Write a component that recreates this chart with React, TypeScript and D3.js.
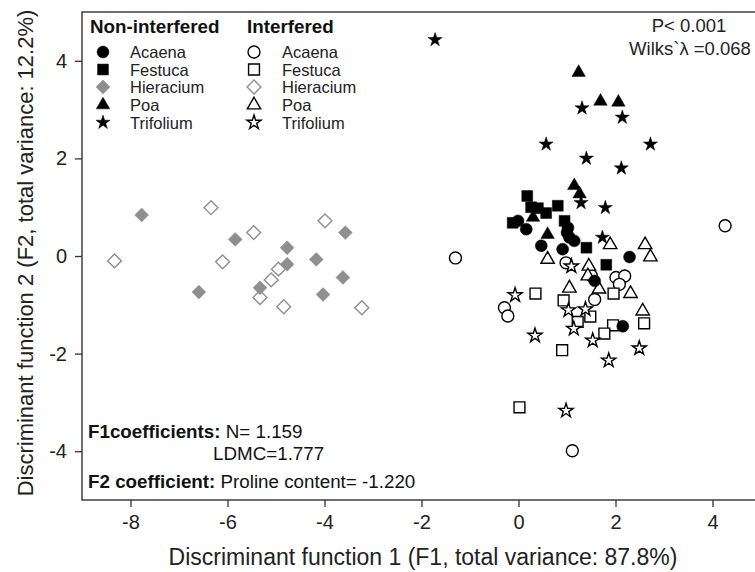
import { useEffect, useRef } from "react";
import * as d3 from "d3";

const WIDTH = 755;
const HEIGHT = 572;
const FRAME = { left: 82, top: 12, bottom: 500, right: 790 };
const FONT = "'Liberation Sans', Arial, sans-serif";

const xTicks = [-8, -6, -4, -2, 0, 2, 4];
const yTicks = [-4, -2, 0, 2, 4];

// Non-interfered
const acaenaNI = [[-0.01, 0.72], [0.16, 0.55], [0.47, 0.21], [0.91, 0.14], [1.05, 0.38], [1.15, 0.31], [1.02, 0.58], [1.0, 0.48], [2.29, -0.02], [1.57, -0.51], [2.15, -1.44]];
const festucaNI = [[0.18, 1.23], [0.4, 0.98], [0.57, 0.88], [0.81, 1.03], [-0.12, 0.68], [0.95, 0.72], [1.4, 0.17], [1.81, -0.18], [0.26, 1.0]];
const hieraciumNI = [[-7.77, 0.84], [-5.84, 0.34], [-4.77, 0.17], [-4.77, -0.17], [-4.17, -0.07], [-3.57, 0.48], [-3.62, -0.44], [-4.03, -0.79], [-5.33, -0.65], [-6.59, -0.74]];
const poaNI = [[1.24, 3.76], [1.69, 3.17], [2.06, 3.15], [1.15, 1.44], [1.26, 1.27], [0.3, 0.79], [0.6, 0.44]];
const trifoliumNI = [[-1.72, 4.43], [1.31, 3.03], [2.14, 2.84], [0.57, 2.29], [2.72, 2.29], [1.4, 2.0], [2.12, 1.8], [1.79, 0.99], [1.73, 0.38], [1.29, 1.09]];

// Interfered
const acaenaI = [[4.26, 0.62], [-1.3, -0.04], [0.98, -0.14], [2.01, -0.44], [2.19, -0.41], [2.08, -0.58], [1.57, -0.89], [-0.29, -1.06], [-0.22, -1.23], [1.11, -3.99], [1.5, -0.4]];
const festucaI = [[0.35, -0.77], [0.93, -0.91], [1.96, -0.77], [1.48, -1.24], [1.22, -1.35], [1.95, -1.42], [1.77, -1.59], [2.59, -1.38], [0.9, -1.93], [0.02, -3.1]];
const hieraciumI = [[-6.34, 0.99], [-8.33, -0.1], [-5.46, 0.48], [-6.1, -0.12], [-3.99, 0.72], [-4.95, -0.27], [-5.1, -0.49], [-5.33, -0.85], [-4.84, -1.04], [-3.23, -1.06]];
const poaI = [[0.6, -0.07], [1.89, 0.23], [2.61, 0.23], [2.72, -0.02], [1.45, -0.21], [1.43, -0.41], [1.05, -0.66], [1.66, -0.68], [2.31, -0.77], [2.56, -1.13]];
const trifoliumI = [[-0.07, -0.8], [1.03, -1.11], [1.38, -1.09], [1.14, -1.49], [0.34, -1.63], [1.53, -1.73], [2.49, -1.89], [1.86, -2.14], [0.98, -3.17], [1.09, -0.21]];

const species = ["Acaena", "Festuca", "Hieracium", "Poa", "Trifolium"];

const GRAY = "#8f8f8f";

// symbol shape per species
const shapeOf: Record<string, { type: d3.SymbolType; size: number; rotate: number }> = {
    Acaena: { type: d3.symbolCircle, size: 112, rotate: 0 },
    Festuca: { type: d3.symbolSquare, size: 118, rotate: 0 },
    Hieracium: { type: d3.symbolSquare, size: 96, rotate: 45 },
    Poa: { type: d3.symbolTriangle, size: 78, rotate: 0 },
    Trifolium: { type: d3.symbolStar, size: 62, rotate: 0 },
};

const groups = [
    { name: "Acaena", filled: false, data: acaenaI },
    { name: "Festuca", filled: false, data: festucaI },
    { name: "Hieracium", filled: false, data: hieraciumI },
    { name: "Poa", filled: false, data: poaI },
    { name: "Trifolium", filled: false, data: trifoliumI },
    { name: "Hieracium", filled: true, data: hieraciumNI },
    { name: "Festuca", filled: true, data: festucaNI },
    { name: "Acaena", filled: true, data: acaenaNI },
    { name: "Poa", filled: true, data: poaNI },
    { name: "Trifolium", filled: true, data: trifoliumNI },
];

const Marker = ({ name, filled, x, y }: { name: string; filled: boolean; x: number; y: number }) => {
    const s = shapeOf[name];
    const d = d3.symbol().type(s.type).size(s.size)() as string;
    const isHier = name === "Hieracium";
    const color = isHier ? GRAY : "#000";
    return (
        <path
            d={d}
            transform={`translate(${x},${y}) rotate(${s.rotate})`}
            fill={filled ? color : "#fff"}
            stroke={color}
            strokeWidth={filled ? 0.5 : 1.4}
        />
    );
};

const App = () => {
    const xAxisRef = useRef(null);
    const yAxisRef = useRef(null);

    const xScale = d3.scaleLinear().domain([-9, 5]).range([FRAME.left, FRAME.left + 14 * 48.5]);
    const yScale = d3.scaleLinear().domain([-5, 5]).range([FRAME.bottom, FRAME.top]);

    useEffect(() => {
        const gx = d3.select(xAxisRef.current);
        gx.selectAll("*").remove();
        gx.call(
            d3.axisBottom(xScale).tickValues(xTicks).tickSize(7).tickPadding(8).tickFormat((d) => String(d))
        );
        gx.select(".domain").remove();
        gx.selectAll("line").attr("stroke", "#333").attr("stroke-width", 1.3);
        gx.selectAll("text").attr("font-family", FONT).attr("font-size", 20).attr("fill", "#222");

        const gy = d3.select(yAxisRef.current);
        gy.selectAll("*").remove();
        gy.call(
            d3.axisLeft(yScale).tickValues(yTicks).tickSize(7).tickPadding(8).tickFormat((d) => String(d))
        );
        gy.select(".domain").remove();
        gy.selectAll("line").attr("stroke", "#333").attr("stroke-width", 1.3);
        gy.selectAll("text").attr("font-family", FONT).attr("font-size", 20).attr("fill", "#222");
    }, [xScale, yScale]);

    const legendRows = [52, 69.5, 87, 105, 122.5];

    return (
        <svg
            width={WIDTH}
            height={HEIGHT}
            style={{ position: "absolute", left: 0, top: 0, background: "white" }}
            fontFamily={FONT}
        >
            <rect
                x={FRAME.left}
                y={FRAME.top}
                width={FRAME.right - FRAME.left}
                height={FRAME.bottom - FRAME.top}
                fill="none"
                stroke="#333"
                strokeWidth={1.4}
            />
            <g ref={xAxisRef} transform={`translate(0,${FRAME.bottom})`} />
            <g ref={yAxisRef} transform={`translate(${FRAME.left},0)`} />

            {/* points */}
            {groups.map((g, gi) =>
                g.data.map((p, i) => (
                    <Marker key={`${gi}-${i}`} name={g.name} filled={g.filled} x={xScale(p[0])} y={yScale(p[1])} />
                ))
            )}

            {/* legend */}
            <text x={90} y={33} fontSize={18.8} fontWeight="bold" fill="#111">Non-interfered</text>
            <text x={247} y={33} fontSize={18.8} fontWeight="bold" fill="#111">Interfered</text>
            {species.map((s, i) => (
                <g key={s}>
                    <Marker name={s} filled={true} x={103} y={legendRows[i]} />
                    <text x={130} y={legendRows[i] + 6} fontSize={16.5} fill="#222">{s}</text>
                    <Marker name={s} filled={false} x={254} y={legendRows[i]} />
                    <text x={282} y={legendRows[i] + 6} fontSize={16.5} fill="#222">{s}</text>
                </g>
            ))}

            {/* statistics */}
            <text x={689} y={32} fontSize={18.5} textAnchor="middle" fill="#222">P&lt; 0.001</text>
            <text x={690} y={55} fontSize={18.5} textAnchor="middle" fill="#222">Wilks`λ =0.068</text>

            <text x={88} y={438} fontSize={18.8} fill="#111">
                <tspan fontWeight="bold">F1coefficients:</tspan> N= 1.159
            </text>
            <text x={213} y={460} fontSize={18.8} fill="#111">LDMC=1.777</text>
            <text x={88} y={488} fontSize={18.8} fill="#111">
                <tspan fontWeight="bold">F2 coefficient:</tspan> Proline content= -1.220
            </text>

            {/* axis titles */}
            <text x={423} y={565} fontSize={23} textAnchor="middle" fill="#222">
                Discriminant function 1 (F1, total variance: 87.8%)
            </text>
            <text transform="translate(33,253) rotate(-90)" fontSize={22} textAnchor="middle" fill="#222">
                Discriminant function 2 (F2, total variance: 12.2%)
            </text>
        </svg>
    );
};

export default App;
